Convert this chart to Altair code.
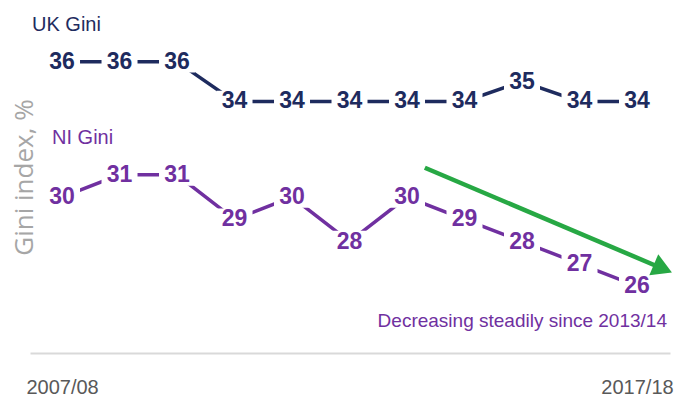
import altair as alt
import pandas as pd

# Gini index by financial year, UK vs Northern Ireland
years = ["2007/08", "2008/09", "2009/10", "2010/11", "2011/12", "2012/13",
         "2013/14", "2014/15", "2015/16", "2016/17", "2017/18"]
uk_gini = [36, 36, 36, 34, 34, 34, 34, 34, 35, 34, 34]
ni_gini = [30, 31, 31, 29, 30, 28, 30, 29, 28, 27, 26]

# trend arrow (year index, NI Gini value)
arrow_start = [6.31, 31.32]
arrow_end = [10.45, 26.78]
trend_note = "Decreasing steadily since 2013/14"

UK_COLOR = "#1e2b5e"
NI_COLOR = "#7030a0"
GREEN = "#27a844"
FONT = "Liberation Sans"
BOX = "M-1,-0.6 L1,-0.6 L1,0.6 L-1,0.6 Z"

df = pd.DataFrame({"idx": list(range(len(years))), "year": years,
                   "uk": uk_gini, "ni": ni_gini})
arrow_df = pd.DataFrame({"x": [arrow_start[0]], "y": [arrow_start[1]],
                         "x2": [arrow_end[0]], "y2": [arrow_end[1]]})

label_expr = "[" + ",".join(f"'{y}'" for y in years) + "][datum.value]"
x_scale = alt.Scale(domain=[-0.557, 10.574], nice=False, zero=False)
x_axis = alt.Axis(values=[0, len(years) - 1], labelExpr=label_expr, ticks=False,
                  grid=False, domainColor="#d9d9d9", domainWidth=2,
                  labelFont=FONT, labelFontSize=20, labelColor="#595959",
                  labelPadding=34, labelBaseline="middle", labelFlush=False)
X = alt.X("idx:Q", scale=x_scale, axis=x_axis, title=None)

uk_scale = alt.Scale(domain=[21.35, 39.1], nice=False, zero=False)
uk_axis = alt.Axis(labels=False, ticks=False, domain=False, grid=False,
                   titleX=-6, titleY=177, titleAngle=270, titleAlign="center",
                   titleBaseline="middle", titleFont="Open Sans", titleFontSize=26,
                   titleFontWeight="normal", titleColor="#a6a6a6")
UKY = alt.Y("uk:Q", scale=uk_scale, axis=uk_axis, title="Gini index, %")

ni_scale = alt.Scale(domain=[22.99, 38.86], nice=False, zero=False)
NIY = alt.Y("ni:Q", scale=ni_scale, axis=None)


def series(y_enc, field, color, name, name_dx, name_dy):
    line = alt.Chart(df).mark_line(color=color, strokeWidth=3.5).encode(x=X, y=y_enc)
    boxes = alt.Chart(df).mark_point(shape=BOX, size=1296, filled=True, color="white",
                                     opacity=1, strokeWidth=0).encode(x=X, y=y_enc)
    labels = alt.Chart(df).mark_text(font=FONT, fontSize=23, fontWeight="bold",
                                     color=color, baseline="middle").encode(
        x=X, y=y_enc, text=alt.Text(f"{field}:Q"))
    title = alt.Chart(df).transform_filter("datum.idx == 0").mark_text(
        text=name, font=FONT, fontSize=20, color=color, align="left",
        baseline="middle", dx=name_dx, dy=name_dy).encode(x=X, y=y_enc)
    return [line, boxes, labels, title]


uk_layers = series(UKY, "uk", UK_COLOR, "UK Gini", -30, -37)
ni_layers = series(NIY, "ni", NI_COLOR, "NI Gini", -10, -59)

note = alt.Chart(df).transform_filter(f"datum.idx == {len(years) - 1}").mark_text(
    text=trend_note, font=FONT, fontSize=19, color=NI_COLOR, align="right",
    baseline="middle", dx=30, dy=35).encode(x=X, y=NIY)

shaft = alt.Chart(arrow_df).mark_rule(color=GREEN, strokeWidth=4.5).encode(
    x=alt.X("x:Q", scale=x_scale, axis=x_axis, title=None), x2="x2:Q",
    y=alt.Y("y:Q", scale=ni_scale, axis=None), y2="y2:Q")
head = alt.Chart(arrow_df).mark_point(shape="triangle-right", angle=23, size=520,
                                      filled=True, color=GREEN, opacity=1).encode(
    x=alt.X("x2:Q", scale=x_scale, axis=x_axis, title=None),
    y=alt.Y("y2:Q", scale=ni_scale, axis=None))

chart = alt.layer(
    alt.layer(*uk_layers),
    alt.layer(*ni_layers, note, shaft, head),
).resolve_scale(y="independent").properties(
    width=640, height=353, autosize="none",
    padding={"left": 30, "top": 0, "right": 4, "bottom": 44},
    background="white",
).configure_view(stroke=None)

chart.save("out.html", embed_options={"renderer": "svg", "actions": False})
